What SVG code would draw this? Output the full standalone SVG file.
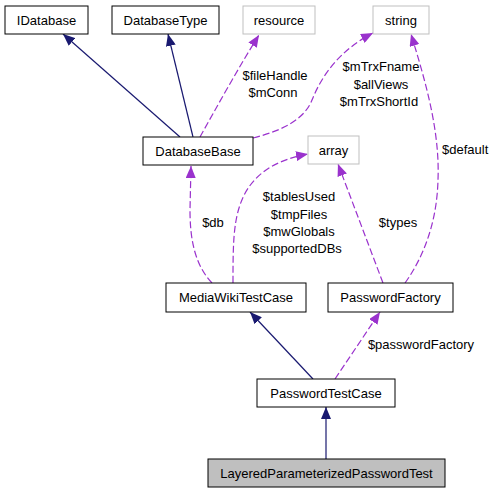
<svg xmlns="http://www.w3.org/2000/svg" width="493" height="493" viewBox="0 0 493 493">
<style>
text{font-family:"Liberation Sans",Arial,sans-serif;font-size:13px;fill:#000;}
.n{text-anchor:middle;}
.box{fill:#fff;stroke:#000;stroke-width:1;}
.gbox{fill:#fff;stroke:#bfbfbf;stroke-width:1;}
.sel{fill:#bfbfbf;stroke:#000;stroke-width:1;}
.inh{fill:none;stroke:#191970;stroke-width:1.2;}
.use{fill:none;stroke:#9a32cd;stroke-width:1.2;stroke-dasharray:7,3;}
</style>
<defs>
<marker id="ah" markerUnits="userSpaceOnUse" viewBox="0 0 12 10" refX="12" refY="5" markerWidth="12" markerHeight="10" orient="auto"><path d="M0,0 L12,5 L0,10 z" fill="#191970"/></marker>
<marker id="ap" markerUnits="userSpaceOnUse" viewBox="0 0 12 10" refX="12" refY="5" markerWidth="12" markerHeight="10" orient="auto"><path d="M0,0 L12,5 L0,10 z" fill="#9a32cd"/></marker>
</defs>
<g id="edges">
<path class="inh" d="M180,137 L63,34" marker-end="url(#ah)"/>
<path class="inh" d="M193,137 L168,34" marker-end="url(#ah)"/>
<path class="use" d="M200,137 C215,110 240,65 259,35" marker-end="url(#ap)"/>
<path class="use" d="M253,138 C285,130 305,118 312,100 C322,75 340,50 373,33" marker-end="url(#ap)"/>
<path class="use" d="M405,283 C425,255 437,220 438,180 C440,130 425,80 411,34" marker-end="url(#ap)"/>
<path class="use" d="M383,283 L338,164" marker-end="url(#ap)"/>
<path class="use" d="M233,283 C233,250 233,225 240,205 C250,175 275,160 308,154" marker-end="url(#ap)"/>
<path class="use" d="M212,283 C195,265 190,240 190,210 L191,166" marker-end="url(#ap)"/>
<path class="inh" d="M313,379 L250,312" marker-end="url(#ah)"/>
<path class="use" d="M335,379 L380,312" marker-end="url(#ap)"/>
<path class="inh" d="M326,459 L326,407" marker-end="url(#ah)"/>
<text x="275" y="80" class="n">$fileHandle</text>
<text x="273" y="97" class="n">$mConn</text>
<text x="381" y="71" class="n">$mTrxFname</text>
<text x="381" y="89" class="n">$allViews</text>
<text x="379" y="106" class="n">$mTrxShortId</text>
<text x="442" y="154">$default</text>
<text x="398" y="227" class="n">$types</text>
<text x="299" y="201" class="n">$tablesUsed</text>
<text x="299" y="219" class="n">$tmpFiles</text>
<text x="299" y="236" class="n">$mwGlobals</text>
<text x="297" y="253" class="n">$supportedDBs</text>
<text x="213" y="227" class="n">$db</text>
<text x="421" y="349" class="n">$passwordFactory</text>
</g>
<g id="IDatabase"><rect class="box" x="5" y="6" width="83" height="28"/><text class="n" x="46.5" y="24.5">IDatabase</text></g>
<g id="DatabaseType"><rect class="box" x="112" y="6" width="107" height="28"/><text class="n" x="165.5" y="24.5">DatabaseType</text></g>
<g id="resource"><rect class="gbox" x="243" y="6" width="72" height="28"/><text class="n" x="279" y="24.5">resource</text></g>
<g id="string"><rect class="gbox" x="373" y="6" width="56" height="28"/><text class="n" x="401" y="24.5">string</text></g>
<g id="DatabaseBase"><rect class="box" x="143" y="137" width="110" height="28"/><text class="n" x="198" y="155.5">DatabaseBase</text></g>
<g id="array"><rect class="gbox" x="308" y="136" width="51" height="28"/><text class="n" x="333.5" y="154.5">array</text></g>
<g id="MediaWikiTestCase"><rect class="box" x="166" y="283" width="140" height="29"/><text class="n" x="236" y="302">MediaWikiTestCase</text></g>
<g id="PasswordFactory"><rect class="box" x="328" y="283" width="125" height="29"/><text class="n" x="390.5" y="302">PasswordFactory</text></g>
<g id="PasswordTestCase"><rect class="box" x="257" y="379" width="138" height="28"/><text class="n" x="326" y="397.5">PasswordTestCase</text></g>
<g id="LayeredParameterizedPasswordTest"><rect class="sel" x="208" y="459" width="237" height="28"/><text class="n" x="326.5" y="477.5">LayeredParameterizedPasswordTest</text></g>
</svg>
